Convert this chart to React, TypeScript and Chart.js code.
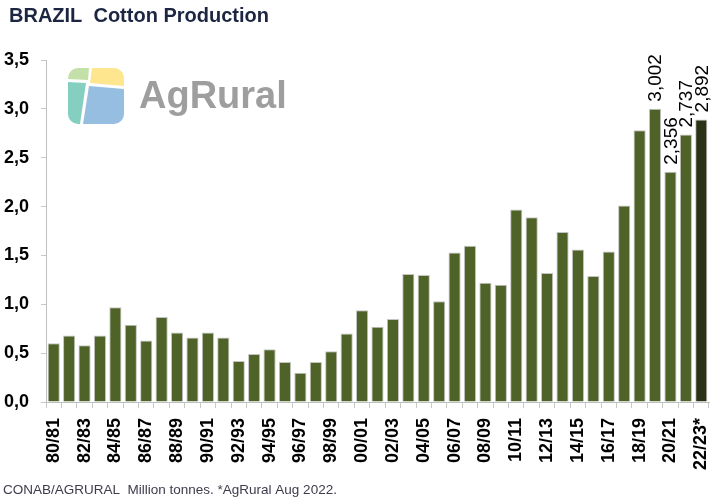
import React, { useEffect, useRef } from "react";
import { Chart, registerables } from "chart.js";

Chart.register(...registerables);

const categories = [
  "80/81", "81/82", "82/83", "83/84", "84/85", "85/86", "86/87", "87/88", "88/89", "89/90",
  "90/91", "91/92", "92/93", "93/94", "94/95", "95/96", "96/97", "97/98", "98/99", "99/00",
  "00/01", "01/02", "02/03", "03/04", "04/05", "05/06", "06/07", "07/08", "08/09", "09/10",
  "10/11", "11/12", "12/13", "13/14", "14/15", "15/16", "16/17", "17/18", "18/19", "19/20",
  "20/21", "21/22", "22/23*",
];

const production = [
  0.6, 0.68, 0.58, 0.68, 0.97, 0.79, 0.63, 0.87, 0.71, 0.66,
  0.71, 0.66, 0.42, 0.49, 0.54, 0.41, 0.3, 0.41, 0.52, 0.7,
  0.94, 0.77, 0.85, 1.31, 1.3, 1.03, 1.53, 1.6, 1.22, 1.2,
  1.97, 1.89, 1.32, 1.74, 1.56, 1.29, 1.54, 2.01, 2.78, 3.002,
  2.356, 2.737, 2.892,
];

const labeledSeasons = ["19/20", "20/21", "21/22", "22/23*"];
const forecastSeasons = ["22/23*"];

const TITLE = "BRAZIL  Cotton Production";
const FOOTER = "CONAB/AGRURAL  Million tonnes. *AgRural Aug 2022.";
const FONT = "'Liberation Sans', Arial, sans-serif";

const decorPlugin = {
  id: "decor",
  beforeDraw(chart: any) {
    const ctx = chart.ctx as CanvasRenderingContext2D;
    ctx.save();
    ctx.fillStyle = "#ffffff";
    ctx.fillRect(0, 0, chart.width, chart.height);
    // title
    ctx.fillStyle = "#1c2642";
    ctx.font = `bold 20px ${FONT}`;
    ctx.textAlign = "left";
    ctx.textBaseline = "alphabetic";
    ctx.fillText(TITLE, 9, 22);
    // footer
    ctx.fillStyle = "#3c3c4c";
    ctx.font = `13.5px ${FONT}`;
    ctx.fillText(FOOTER, 3, 494);
    // logo icon
    ctx.save();
    ctx.beginPath();
    (ctx as any).roundRect(68, 68, 56, 56, 10);
    ctx.clip();
    const poly = (pts: number[][], color: string) => {
      ctx.beginPath();
      ctx.moveTo(pts[0][0], pts[0][1]);
      for (let i = 1; i < pts.length; i++) ctx.lineTo(pts[i][0], pts[i][1]);
      ctx.closePath();
      ctx.fillStyle = color;
      ctx.fill();
    };
    poly([[68, 68], [89, 68], [88, 80], [68, 79]], "#c2e0a8");
    poly([[92, 68], [124, 68], [124, 86], [90, 83]], "#fde68e");
    poly([[68, 82], [86, 83], [80, 124], [68, 124]], "#85cfc1");
    poly([[89, 86], [124, 89], [124, 124], [83, 124]], "#96bee0");
    ctx.restore();
    // logo text
    ctx.fillStyle = "#9e9e9e";
    ctx.font = `bold 38px ${FONT}`;
    ctx.textAlign = "left";
    ctx.textBaseline = "alphabetic";
    ctx.fillText("AgRural", 139, 108, 152);
    ctx.restore();
  },
  afterDatasetsDraw(chart: any) {
    const ctx = chart.ctx as CanvasRenderingContext2D;
    const meta = chart.getDatasetMeta(0);
    ctx.save();
    ctx.fillStyle = "#000000";
    ctx.font = `19px ${FONT}`;
    ctx.textAlign = "left";
    ctx.textBaseline = "middle";
    categories.forEach((c, i) => {
      if (!labeledSeasons.includes(c)) return;
      const el = meta.data[i];
      const txt = production[i].toFixed(3).replace(".", ",");
      ctx.save();
      ctx.translate(el.x, el.y - 7);
      ctx.rotate(-Math.PI / 2);
      ctx.fillText(txt, 0, 1);
      ctx.restore();
    });
    ctx.restore();
  },
};

export default function App() {
  const ref = useRef<HTMLCanvasElement | null>(null);

  useEffect(() => {
    if (!ref.current) return;
    const chart = new Chart(ref.current, {
      type: "bar",
      data: {
        labels: categories,
        datasets: [
          {
            data: production,
            backgroundColor: categories.map((c) =>
              forecastSeasons.includes(c) ? "#2a3316" : "#4f6228"
            ),
            borderColor: "#c4c4c4",
            borderWidth: 1,
            categoryPercentage: 1,
            barPercentage: 0.79,
          },
        ],
      },
      options: {
        animation: false,
        responsive: false,
        devicePixelRatio: 1,
        layout: { padding: { left: 0, right: 6, top: 60, bottom: 21 } },
        plugins: {
          legend: { display: false },
          title: { display: false },
          tooltip: { enabled: false },
        },
        scales: {
          x: {
            afterFit: (s: any) => {
              s.height = 76;
              s.paddingLeft = 0;
              s.paddingRight = 0;
            },
            grid: {
              display: true,
              drawOnChartArea: false,
              drawTicks: true,
              tickLength: 6,
              color: "#c8c8c8",
              offset: true,
            },
            border: { display: true, color: "#c0c0c0", width: 1 },
            ticks: {
              autoSkip: false,
              minRotation: 90,
              maxRotation: 90,
              padding: 10,
              color: "#000000",
              font: { family: FONT, size: 18, weight: "bold" },
              callback: (_v: any, i: number) => (i % 2 === 0 ? categories[i] : ""),
            },
          },
          y: {
            min: 0,
            max: 3.5,
            afterFit: (s: any) => {
              s.width = 46;
            },
            grid: {
              display: true,
              drawOnChartArea: false,
              drawTicks: true,
              tickLength: 5,
              color: "#c8c8c8",
            },
            border: { display: true, color: "#c0c0c0", width: 1 },
            ticks: {
              stepSize: 0.5,
              padding: 12,
              color: "#000000",
              font: { family: FONT, size: 18, weight: "bold" },
              callback: (v: any) => Number(v).toFixed(1).replace(".", ","),
            },
          },
        },
      },
      plugins: [decorPlugin],
    } as any);
    return () => chart.destroy();
  }, []);

  return (
    <div style={{ position: "absolute", left: 0, top: 0, width: 715, height: 499 }}>
      <canvas ref={ref} width={715} height={499} style={{ width: 715, height: 499, display: "block" }} />
    </div>
  );
}
